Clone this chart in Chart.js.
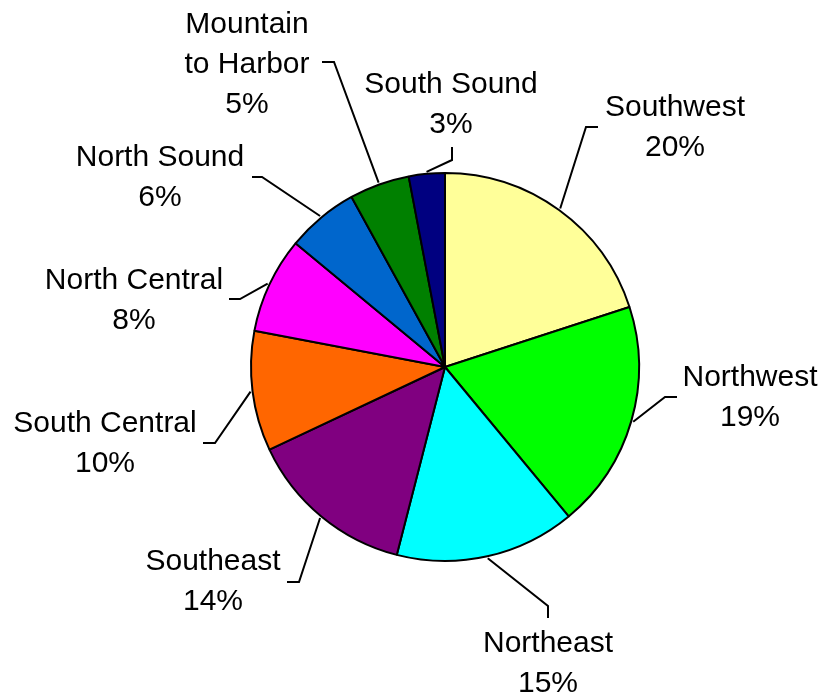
<!DOCTYPE html>
<html>
<head>
<meta charset="utf-8">
<title>Regional share</title>
<script src="https://cdn.jsdelivr.net/npm/chart.js@4.4.1/dist/chart.umd.min.js"></script>
<style>
    html, body { margin: 0; padding: 0; background: #fff; }
    #wrap { width: 823px; height: 698px; position: relative; }
</style>
</head>
<body>
<div id="wrap"><canvas id="regionPie"></canvas></div>
<script>
// Share of total by region, clockwise from 12 o'clock
const categories = ['Southwest', 'Northwest', 'Northeast', 'Southeast', 'South Central',
    'North Central', 'North Sound', ['Mountain', 'to Harbor'], 'South Sound'];
const shares = [20, 19, 15, 14, 10, 8, 6, 5, 3];
const sliceColors = ['#FFFF99', '#00FF00', '#00FFFF', '#800080', '#FF6600',
    '#FF00FF', '#0066CC', '#008000', '#000080'];

// Label placement, offsets from the pie centre (px at radius 194):
// [text x, first line y, elbow x, elbow y, tick end x, tick end y]
const labelLayout = [
    [230, -259, 141, -240, 153, -240],
    [305, 11, 220, 30, 232, 30],
    [103, 277, 103, 239, 103, 251],
    [-232, 195, -146, 215, -158, 215],
    [-340, 57, -230, 76, -242, 76],
    [-311, -86, -205, -68, -216, -68],
    [-285, -209, -183, -190, -193, -190],
    [-198, -342, -111, -305, -123, -305],
    [6, -282, 7, -207, 7, -220]
];

const LABEL_FONT = '30px "Liberation Sans", Arial, sans-serif';
const LINE_HEIGHT = 40;

/**
 * Draw outside labels with leader lines
 */
const leaderLabels = {
    id: 'leaderLabels',
    afterDraw(chart) {
        const ctx = chart.ctx;
        const meta = chart.getDatasetMeta(0);
        ctx.save();
        ctx.font = LABEL_FONT;
        ctx.fillStyle = '#000';
        ctx.strokeStyle = '#000';
        ctx.lineWidth = 2;
        ctx.textAlign = 'center';
        ctx.textBaseline = 'middle';

        meta.data.forEach((arc, i) => {
            const p = arc.getProps(['x', 'y', 'startAngle', 'endAngle', 'outerRadius'], true);
            const k = p.outerRadius / 194;
            const mid = (p.startAngle + p.endAngle) / 2;
            const r = p.outerRadius + 2;
            const sx = p.x + Math.cos(mid) * r;
            const sy = p.y + Math.sin(mid) * r;
            const L = labelLayout[i];

            ctx.beginPath();
            ctx.moveTo(sx, sy);
            ctx.lineTo(p.x + L[2] * k, p.y + L[3] * k);
            ctx.lineTo(p.x + L[4] * k, p.y + L[5] * k);
            ctx.stroke();

            const name = categories[i];
            const lines = (Array.isArray(name) ? name.slice() : [name]);
            lines.push(shares[i] + '%');
            lines.forEach((line, j) => {
                ctx.fillText(line, p.x + L[0] * k, p.y + L[1] * k + j * LINE_HEIGHT);
            });
        });
        ctx.restore();
    }
};

new Chart(document.getElementById('regionPie'), {
    type: 'pie',
    data: {
        labels: categories,
        datasets: [{
            data: shares,
            backgroundColor: sliceColors,
            borderColor: '#000',
            borderWidth: 2
        }]
    },
    options: {
        responsive: true,
        maintainAspectRatio: false,
        animation: false,
        layout: {
            padding: { left: 250, right: 183, top: 172, bottom: 136 }
        },
        plugins: {
            legend: { display: false },
            tooltip: { enabled: false }
        }
    },
    plugins: [leaderLabels]
});
</script>
</body>
</html>
